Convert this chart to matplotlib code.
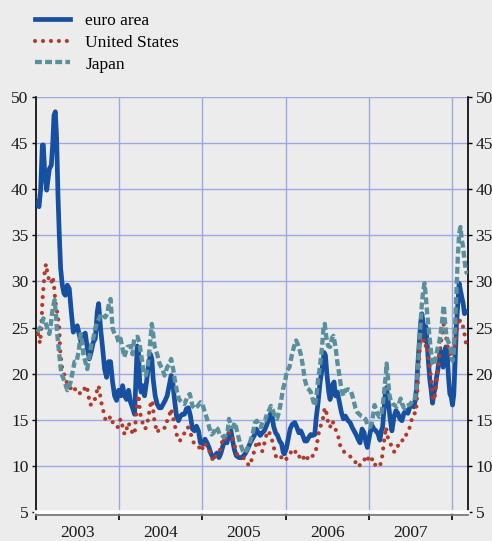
import matplotlib.pyplot as plt
import matplotlib.transforms as mtransforms
import numpy as np

# implied stock market volatility (% p.a.): (decimal year, value)
euro_area = [
    (2003.016, 38.6), (2003.036, 38.1), (2003.056, 40.0), (2003.076, 44.8), (2003.088, 44.8),
    (2003.104, 41.9), (2003.128, 39.9), (2003.144, 41.1), (2003.160, 42.2), (2003.184, 42.6),
    (2003.200, 44.8), (2003.216, 48.0), (2003.232, 48.4), (2003.248, 45.5), (2003.264, 39.3),
    (2003.280, 35.0), (2003.296, 31.4), (2003.316, 29.6), (2003.336, 28.7), (2003.352, 28.5),
    (2003.376, 29.6), (2003.400, 29.2), (2003.424, 26.7), (2003.448, 24.5), (2003.472, 24.9),
    (2003.496, 25.2), (2003.520, 24.2), (2003.544, 23.3), (2003.568, 24.2), (2003.592, 24.4),
    (2003.616, 22.8), (2003.640, 21.6), (2003.664, 22.4), (2003.688, 23.4), (2003.712, 23.8),
    (2003.736, 26.7), (2003.752, 27.6), (2003.776, 24.9), (2003.800, 22.8), (2003.824, 20.5),
    (2003.848, 19.6), (2003.872, 21.3), (2003.896, 21.3), (2003.920, 19.1), (2003.944, 17.6),
    (2003.968, 17.1), (2003.992, 18.2),
    (2004.020, 17.6), (2004.040, 18.7), (2004.064, 17.6), (2004.088, 17.2), (2004.112, 18.2),
    (2004.136, 16.9), (2004.160, 16.3), (2004.184, 15.6), (2004.200, 19.4), (2004.216, 23.0),
    (2004.232, 22.3), (2004.248, 18.7), (2004.264, 18.0), (2004.280, 18.7), (2004.304, 17.6),
    (2004.328, 19.1), (2004.352, 20.9), (2004.376, 22.1), (2004.392, 21.6), (2004.408, 19.4),
    (2004.432, 17.6), (2004.456, 16.7), (2004.480, 16.3), (2004.504, 16.3), (2004.528, 16.7),
    (2004.552, 17.1), (2004.576, 17.6), (2004.600, 18.7), (2004.624, 19.8), (2004.640, 19.4),
    (2004.664, 17.2), (2004.688, 15.4), (2004.712, 14.9), (2004.736, 15.4), (2004.760, 15.6),
    (2004.784, 15.6), (2004.808, 16.2), (2004.832, 16.3), (2004.856, 15.4), (2004.880, 14.0),
    (2004.904, 13.8), (2004.928, 14.3), (2004.952, 13.8), (2004.976, 12.5),
    (2005.007, 12.4), (2005.031, 12.9), (2005.055, 12.5), (2005.079, 12.0), (2005.103, 11.3),
    (2005.127, 10.9), (2005.151, 11.1), (2005.175, 11.4), (2005.199, 10.9), (2005.223, 11.4),
    (2005.247, 12.2), (2005.271, 12.9), (2005.295, 12.5), (2005.319, 13.6), (2005.343, 13.8),
    (2005.359, 12.9), (2005.383, 11.8), (2005.407, 11.1), (2005.439, 10.9), (2005.471, 10.9),
    (2005.495, 11.1), (2005.519, 11.4), (2005.551, 12.0), (2005.575, 12.5), (2005.599, 12.9),
    (2005.623, 13.3), (2005.647, 14.0), (2005.671, 13.6), (2005.695, 13.3), (2005.719, 13.6),
    (2005.743, 13.8), (2005.767, 14.3), (2005.791, 14.9), (2005.815, 15.6), (2005.831, 15.8),
    (2005.855, 14.3), (2005.879, 13.6), (2005.903, 13.3), (2005.927, 12.7), (2005.951, 12.4),
    (2005.970, 11.5),
    (2005.982, 11.3), (2006.006, 11.8), (2006.030, 12.9), (2006.054, 14.0), (2006.078, 14.5),
    (2006.110, 14.7), (2006.134, 14.2), (2006.158, 13.6), (2006.182, 13.8), (2006.206, 13.3),
    (2006.230, 12.7), (2006.254, 12.7), (2006.278, 13.1), (2006.302, 13.4), (2006.326, 13.3),
    (2006.350, 13.4), (2006.366, 15.1), (2006.390, 16.9), (2006.414, 19.1), (2006.438, 20.5),
    (2006.462, 22.3), (2006.478, 22.0), (2006.494, 20.1), (2006.518, 18.0), (2006.534, 17.2),
    (2006.558, 18.7), (2006.582, 19.1), (2006.598, 17.6), (2006.622, 18.0), (2006.646, 16.9),
    (2006.670, 15.8), (2006.694, 15.1), (2006.718, 15.4), (2006.750, 14.9), (2006.774, 14.7),
    (2006.798, 14.2), (2006.822, 13.8), (2006.846, 13.4), (2006.870, 12.9), (2006.894, 12.5),
    (2006.918, 14.0), (2006.942, 13.6), (2006.966, 12.5), (2006.982, 12.0),
    (2007.013, 13.5), (2007.037, 14.4), (2007.061, 14.0), (2007.085, 13.8), (2007.109, 13.5),
    (2007.133, 12.8), (2007.149, 13.8), (2007.165, 14.2), (2007.181, 16.0), (2007.197, 17.8),
    (2007.213, 18.5), (2007.229, 17.3), (2007.253, 15.3), (2007.277, 13.8), (2007.301, 15.3),
    (2007.325, 16.0), (2007.349, 15.7), (2007.373, 15.1), (2007.397, 14.9), (2007.421, 15.7),
    (2007.445, 16.0), (2007.469, 15.7), (2007.493, 16.4), (2007.517, 16.7), (2007.541, 16.4),
    (2007.557, 17.1), (2007.573, 18.5), (2007.589, 21.1), (2007.605, 23.2), (2007.621, 25.4),
    (2007.637, 26.5), (2007.653, 25.4), (2007.669, 23.6), (2007.685, 25.1), (2007.701, 23.2),
    (2007.717, 21.1), (2007.733, 19.3), (2007.749, 18.2), (2007.765, 16.8), (2007.781, 17.8),
    (2007.797, 18.5), (2007.813, 19.6), (2007.829, 20.4), (2007.845, 21.8), (2007.861, 22.5),
    (2007.877, 22.2), (2007.893, 20.7), (2007.909, 21.8), (2007.925, 22.9), (2007.941, 22.2),
    (2007.957, 19.6), (2007.973, 17.8), (2007.989, 17.5), (2008.005, 16.6), (2008.021, 17.8),
    (2008.037, 21.4), (2008.053, 25.4), (2008.069, 27.6), (2008.085, 29.8), (2008.101, 29.0),
    (2008.117, 28.3), (2008.133, 27.6), (2008.149, 26.5), (2008.165, 26.7),
]

united_states = [
    (2003.024, 24.3), (2003.048, 23.3), (2003.064, 24.9), (2003.076, 27.8), (2003.088, 29.2),
    (2003.104, 31.0), (2003.120, 31.9), (2003.136, 31.0), (2003.152, 30.3), (2003.168, 29.9),
    (2003.184, 29.8), (2003.200, 30.5), (2003.216, 29.6), (2003.232, 27.8), (2003.248, 27.0),
    (2003.264, 26.1), (2003.280, 24.9), (2003.288, 22.7), (2003.304, 21.3), (2003.320, 20.2),
    (2003.336, 20.0), (2003.360, 19.3), (2003.384, 18.7), (2003.408, 18.4), (2003.432, 18.5),
    (2003.456, 18.7), (2003.480, 18.0), (2003.504, 18.1), (2003.536, 17.8), (2003.568, 18.0),
    (2003.596, 18.7), (2003.616, 18.4), (2003.632, 17.5), (2003.656, 16.6), (2003.680, 17.1),
    (2003.704, 17.1), (2003.728, 18.0), (2003.752, 18.7), (2003.768, 17.8), (2003.784, 16.9),
    (2003.808, 16.0), (2003.832, 15.1), (2003.856, 15.3), (2003.880, 15.5), (2003.904, 14.6),
    (2003.928, 14.8), (2003.952, 14.4), (2003.984, 14.2),
    (2004.016, 15.1), (2004.040, 14.3), (2004.064, 13.4), (2004.088, 14.0), (2004.112, 14.7),
    (2004.136, 14.0), (2004.160, 13.6), (2004.184, 13.4), (2004.200, 15.1), (2004.216, 16.9),
    (2004.232, 17.7), (2004.248, 16.0), (2004.264, 15.1), (2004.288, 14.5), (2004.312, 14.0),
    (2004.336, 14.5), (2004.352, 15.4), (2004.368, 16.2), (2004.384, 17.1), (2004.400, 16.9),
    (2004.416, 15.3), (2004.432, 14.5), (2004.456, 13.6), (2004.480, 14.0), (2004.504, 14.1),
    (2004.528, 14.2), (2004.552, 14.1), (2004.576, 14.9), (2004.600, 15.4), (2004.624, 16.2),
    (2004.640, 15.4), (2004.664, 14.7), (2004.680, 13.8), (2004.704, 12.9), (2004.728, 12.7),
    (2004.752, 13.1), (2004.776, 13.4), (2004.800, 14.0), (2004.824, 14.2), (2004.848, 13.8),
    (2004.872, 13.1), (2004.896, 12.5), (2004.920, 12.2), (2004.944, 12.0), (2004.968, 12.0),
    (2004.992, 11.6),
    (2005.015, 12.5), (2005.047, 12.2), (2005.071, 11.8), (2005.095, 11.4), (2005.111, 10.9),
    (2005.135, 10.5), (2005.159, 11.1), (2005.191, 11.4), (2005.215, 11.8), (2005.239, 12.7),
    (2005.263, 12.5), (2005.287, 13.3), (2005.311, 13.6), (2005.335, 13.6), (2005.359, 13.1),
    (2005.383, 12.4), (2005.407, 11.4), (2005.431, 11.1), (2005.455, 11.1), (2005.487, 10.9),
    (2005.519, 10.7), (2005.535, 10.4), (2005.559, 10.0), (2005.575, 10.2), (2005.599, 10.9),
    (2005.623, 11.6), (2005.647, 12.4), (2005.671, 12.7), (2005.695, 11.8), (2005.719, 11.6),
    (2005.743, 12.4), (2005.767, 13.3), (2005.791, 13.8), (2005.815, 13.4), (2005.839, 12.7),
    (2005.863, 11.8), (2005.887, 10.9), (2005.911, 10.7), (2005.943, 10.9), (2005.975, 11.1),
    (2006.000, 10.7), (2006.030, 10.9), (2006.054, 11.3), (2006.078, 11.8), (2006.110, 11.7),
    (2006.134, 11.1), (2006.158, 10.9), (2006.182, 11.3), (2006.206, 11.1), (2006.230, 10.5),
    (2006.254, 10.7), (2006.278, 11.1), (2006.302, 10.9), (2006.326, 11.1), (2006.350, 11.3),
    (2006.366, 11.8), (2006.382, 12.7), (2006.398, 13.6), (2006.414, 14.2), (2006.438, 14.7),
    (2006.454, 15.4), (2006.470, 16.3), (2006.486, 16.0), (2006.502, 15.1), (2006.518, 14.3),
    (2006.534, 14.2), (2006.558, 14.9), (2006.582, 14.5), (2006.606, 13.8), (2006.630, 13.3),
    (2006.646, 12.5), (2006.670, 11.8), (2006.694, 11.6), (2006.718, 11.4), (2006.742, 11.3),
    (2006.766, 11.1), (2006.790, 10.9), (2006.814, 10.5), (2006.838, 10.4), (2006.862, 10.5),
    (2006.886, 10.0), (2006.910, 10.4), (2006.934, 10.7), (2006.958, 10.7), (2006.982, 10.4),
    (2006.997, 11.0),
    (2007.021, 10.6), (2007.053, 10.8), (2007.077, 10.1), (2007.101, 9.9), (2007.125, 9.9),
    (2007.149, 10.4), (2007.165, 11.3), (2007.173, 12.0), (2007.189, 13.1), (2007.205, 14.2),
    (2007.221, 13.3), (2007.237, 12.8), (2007.261, 12.4), (2007.285, 11.7), (2007.309, 11.5),
    (2007.333, 11.7), (2007.357, 12.4), (2007.381, 12.4), (2007.405, 12.8), (2007.429, 12.8),
    (2007.453, 13.5), (2007.477, 13.7), (2007.501, 14.6), (2007.525, 15.3), (2007.541, 15.7),
    (2007.565, 15.7), (2007.581, 17.8), (2007.597, 20.4), (2007.613, 22.9), (2007.629, 24.3),
    (2007.645, 24.0), (2007.661, 23.6), (2007.677, 22.9), (2007.693, 23.2), (2007.709, 22.3),
    (2007.725, 21.1), (2007.741, 20.0), (2007.757, 18.5), (2007.773, 17.1), (2007.789, 17.3),
    (2007.805, 18.5), (2007.821, 20.0), (2007.837, 21.1), (2007.853, 22.2), (2007.869, 23.6),
    (2007.885, 24.7), (2007.901, 25.4), (2007.917, 25.1), (2007.933, 23.6), (2007.957, 22.5),
    (2007.981, 22.0), (2008.005, 21.8), (2008.021, 22.2), (2008.045, 23.6), (2008.061, 25.1),
    (2008.085, 26.1), (2008.101, 25.4), (2008.125, 25.4), (2008.149, 24.3), (2008.165, 23.4),
]

japan = [
    (2003.016, 24.5), (2003.040, 24.9), (2003.064, 25.1), (2003.088, 26.0), (2003.112, 25.6),
    (2003.136, 24.9), (2003.160, 24.3), (2003.176, 25.2), (2003.192, 26.5), (2003.208, 27.4),
    (2003.224, 28.0), (2003.240, 26.3), (2003.256, 24.2), (2003.272, 22.7), (2003.288, 21.3),
    (2003.304, 20.0), (2003.328, 19.5), (2003.352, 18.9), (2003.376, 18.2), (2003.400, 18.7),
    (2003.416, 19.1), (2003.440, 20.2), (2003.464, 21.3), (2003.488, 21.3), (2003.512, 22.4),
    (2003.536, 24.3), (2003.552, 23.6), (2003.568, 22.2), (2003.592, 21.3), (2003.616, 20.5),
    (2003.640, 21.8), (2003.664, 23.1), (2003.688, 23.8), (2003.712, 24.9), (2003.736, 25.6),
    (2003.760, 26.0), (2003.784, 26.5), (2003.808, 26.3), (2003.832, 26.1), (2003.856, 26.5),
    (2003.880, 27.8), (2003.896, 28.1), (2003.920, 24.9), (2003.944, 24.3), (2003.968, 24.2),
    (2003.992, 23.4),
    (2004.016, 23.8), (2004.040, 22.7), (2004.060, 21.8), (2004.100, 22.9), (2004.140, 23.0),
    (2004.160, 22.1), (2004.180, 23.8), (2004.220, 24.0), (2004.240, 23.4), (2004.260, 22.3),
    (2004.288, 20.5), (2004.320, 19.8), (2004.344, 20.9), (2004.368, 23.0), (2004.392, 25.4),
    (2004.408, 24.3), (2004.424, 23.0), (2004.456, 22.1), (2004.488, 21.0), (2004.520, 20.5),
    (2004.544, 19.8), (2004.576, 20.7), (2004.600, 21.0), (2004.624, 21.6), (2004.648, 20.5),
    (2004.672, 19.1), (2004.696, 18.0), (2004.720, 17.2), (2004.752, 16.9), (2004.784, 16.7),
    (2004.816, 17.4), (2004.848, 17.8), (2004.880, 16.5), (2004.912, 16.2), (2004.944, 16.5),
    (2004.976, 16.9), (2005.000, 16.7),
    (2005.023, 16.0), (2005.055, 15.1), (2005.087, 14.0), (2005.111, 13.4), (2005.135, 13.6),
    (2005.159, 14.2), (2005.183, 14.0), (2005.207, 13.4), (2005.231, 13.4), (2005.255, 13.1),
    (2005.279, 13.3), (2005.303, 13.8), (2005.319, 15.1), (2005.343, 14.3), (2005.367, 14.2),
    (2005.391, 14.7), (2005.415, 13.8), (2005.439, 12.9), (2005.463, 12.2), (2005.487, 11.6),
    (2005.511, 11.4), (2005.535, 11.8), (2005.559, 12.2), (2005.583, 12.9), (2005.607, 13.6),
    (2005.631, 14.7), (2005.655, 14.9), (2005.679, 14.3), (2005.703, 14.2), (2005.727, 14.9),
    (2005.751, 14.9), (2005.775, 15.6), (2005.799, 16.0), (2005.823, 16.5), (2005.847, 16.0),
    (2005.871, 15.3), (2005.895, 15.1), (2005.919, 15.8), (2005.943, 16.9), (2005.967, 18.3),
    (2005.994, 19.2), (2006.014, 20.3), (2006.046, 20.7), (2006.074, 22.0), (2006.102, 23.0),
    (2006.126, 23.6), (2006.154, 23.0), (2006.182, 22.1), (2006.206, 20.9), (2006.230, 19.4),
    (2006.254, 18.5), (2006.278, 18.3), (2006.302, 18.0), (2006.326, 17.2), (2006.350, 16.5),
    (2006.366, 17.2), (2006.390, 19.4), (2006.414, 20.9), (2006.438, 23.0), (2006.454, 24.9),
    (2006.470, 25.4), (2006.486, 24.1), (2006.510, 23.0), (2006.534, 22.9), (2006.558, 23.9),
    (2006.574, 24.1), (2006.598, 23.0), (2006.622, 21.2), (2006.646, 19.8), (2006.670, 18.3),
    (2006.694, 17.6), (2006.718, 18.2), (2006.750, 18.3), (2006.782, 18.2), (2006.814, 17.2),
    (2006.838, 16.3), (2006.862, 15.8), (2006.886, 15.6), (2006.910, 15.4), (2006.934, 15.3),
    (2006.958, 15.1), (2006.982, 14.5),
    (2007.013, 14.2), (2007.037, 14.7), (2007.069, 16.6), (2007.101, 15.7), (2007.125, 15.3),
    (2007.149, 15.5), (2007.173, 17.1), (2007.189, 18.5), (2007.205, 20.0), (2007.213, 21.1),
    (2007.229, 19.6), (2007.245, 17.8), (2007.261, 17.1), (2007.285, 16.7), (2007.309, 16.6),
    (2007.333, 16.4), (2007.357, 16.6), (2007.381, 17.3), (2007.405, 16.6), (2007.429, 16.2),
    (2007.453, 16.4), (2007.477, 16.6), (2007.501, 16.7), (2007.525, 17.1), (2007.549, 17.1),
    (2007.573, 18.5), (2007.589, 20.7), (2007.605, 22.9), (2007.621, 25.4), (2007.637, 27.6),
    (2007.653, 29.0), (2007.669, 29.8), (2007.685, 28.3), (2007.701, 26.5), (2007.717, 25.1),
    (2007.733, 23.6), (2007.749, 22.2), (2007.765, 21.1), (2007.781, 20.9), (2007.797, 21.4),
    (2007.813, 22.2), (2007.829, 22.9), (2007.845, 23.4), (2007.861, 24.3), (2007.877, 25.4),
    (2007.893, 26.9), (2007.901, 27.4), (2007.917, 25.4), (2007.933, 24.0), (2007.957, 23.4),
    (2007.981, 22.9), (2008.005, 21.4), (2008.021, 22.5), (2008.037, 25.4), (2008.053, 29.0),
    (2008.069, 32.6), (2008.085, 35.2), (2008.101, 35.9), (2008.117, 34.5), (2008.133, 33.7),
    (2008.149, 32.3), (2008.165, 31.2), (2008.181, 30.8),
]

years = [2003, 2004, 2005, 2006, 2007]
y_ticks = [5, 10, 15, 20, 25, 30, 35, 40, 45, 50]

BG = '#ececec'
GRID = '#9ba8e4'
EURO_C = '#1750a0'
US_C = '#b23a2c'
JP_C = '#5a8f9c'

plt.rcParams['font.family'] = ['Liberation Serif', 'DejaVu Serif']
plt.rcParams['font.size'] = 12.5

fig = plt.figure(figsize=(4.92, 5.41), dpi=100, facecolor=BG)
ax = fig.add_axes([0.0732, 0.0536, 0.8778, 0.7671], facecolor=BG)

t, v = np.array(euro_area).T
ax.plot(t, v, color=EURO_C, lw=3.4, solid_joinstyle='round', label='euro area', zorder=3)
t, v = np.array(united_states).T
ax.plot(t, v, color=US_C, lw=3.0, linestyle=(0, (0.01, 1.9)),
        dash_capstyle='round', label='United States', zorder=4)
t, v = np.array(japan).T
ax.plot(t, v, color=JP_C, lw=3.1, linestyle=(0, (1.6, 0.75)),
        dash_capstyle='butt', label='Japan', zorder=5)

ax.set_xlim(2003.0, 2008.19)
ax.set_ylim(5, 50)

# grid
for yv in y_ticks[1:]:
    ax.axhline(yv, color=GRID, lw=1.0, zorder=1)
for yr in years[1:] + [2008]:
    ax.axvline(yr, color=GRID, lw=1.0, zorder=1)

# y axis on both sides
ax.set_yticks(y_ticks)
ax.tick_params(axis='y', which='both', left=True, right=True, labelleft=True,
               labelright=True, length=3, width=1, color='black', pad=2.5,
               labelsize=12.5, labelcolor='#1a1a1a')

# x axis: year boundaries as ticks, labels centred in the year
ax.set_xticks(years[1:] + [2003, 2008])
ax.set_xticklabels([])
ax.set_xticks([y + 0.5 for y in years], minor=True)
ax.set_xticklabels([str(y) for y in years], minor=True)
ax.tick_params(axis='x', which='major', direction='out', length=6, width=1.2, color='black')
ax.tick_params(axis='x', which='minor', length=0, pad=9, labelsize=12.5, labelcolor='#1a1a1a')

for side in ['left', 'right']:
    ax.spines[side].set_color('black')
    ax.spines[side].set_linewidth(1.2)
ax.spines['top'].set_visible(False)
ax.spines['bottom'].set_color('white')
ax.spines['bottom'].set_linewidth(2.6)
ax.spines['bottom'].set_zorder(6)

# thin grey base line just under the white axis band
offset = mtransforms.offset_copy(ax.transAxes, fig=fig, x=0, y=-3.2, units='dots')
ax.plot([0, 1], [0, 0], color='#7a7a7a', lw=1.3, transform=offset, clip_on=False, zorder=6)

fig.legend(loc='upper left', bbox_to_anchor=(0.071, 0.976), frameon=False,
           borderpad=0, borderaxespad=0, handlelength=2.0, handletextpad=0.9,
           labelspacing=0.32, fontsize=12.5)

fig.savefig('out.png', dpi=100, facecolor=BG)
